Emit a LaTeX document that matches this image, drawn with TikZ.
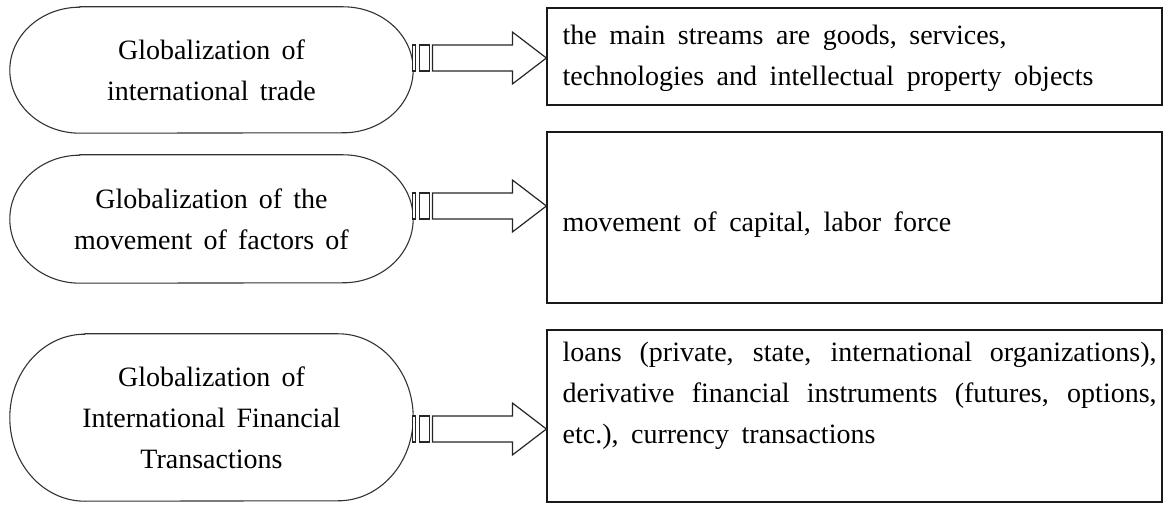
\documentclass[tikz,border=0pt]{standalone}
\usepackage{fontspec}
\setmainfont{Liberation Serif}
\newcommand\widesp[1]{\spaceskip=#1em plus 0.3em minus 0.1em\relax}
\begin{document}
\begin{tikzpicture}[x=1pt,y=1pt,
  txt/.style={font=\fontsize{28}{41}\selectfont\widesp{0.45}, inner sep=0pt},
  boxnode/.style={draw=black!90, line width=1.2pt, inner sep=0pt, minimum width=615pt},
  stadnode/.style={inner sep=0pt, minimum width=403pt, align=center, font=\fontsize{28}{41}\selectfont\widesp{0.4}},
  stadline/.style={line width=1.1pt, draw=black!80},
  arrline/.style={line width=1.2pt, draw=black!85, fill=white},
  fatarrow/.pic={
    \draw[arrline] (-134,-13) rectangle (-131,13);
    \draw[arrline] (-127,-13) rectangle (-117,13);
    \draw[arrline] (-114,-13) -- (-34,-13) -- (-34,-26) -- (0,0) -- (-34,26) -- (-34,13) -- (-114,13) -- cycle;
  }
]
\useasboundingbox (0,0) rectangle (1171,504);

% left stadium nodes
\node[stadnode, minimum height=126pt] (s1) at (211.5,434) {Globalization of\\international trade};
\node[stadnode, minimum height=128pt] (s2) at (211.5,285) {Globalization of the\\movement of factors of};
\node[stadnode, minimum height=167pt] (s3) at (211.5,86.5) {Globalization of\\International Financial\\Transactions};

\draw[stadline] ([xshift=70pt]s1.north west) -- ([xshift=-70pt]s1.north east)
  arc[start angle=90, end angle=-90, x radius=70pt, y radius=63pt]
  -- ([xshift=70pt]s1.south west)
  arc[start angle=270, end angle=90, x radius=70pt, y radius=63pt] -- cycle;
\draw[stadline] ([xshift=70pt]s2.north west) -- ([xshift=-70pt]s2.north east)
  arc[start angle=90, end angle=-90, x radius=70pt, y radius=64pt]
  -- ([xshift=70pt]s2.south west)
  arc[start angle=270, end angle=90, x radius=70pt, y radius=64pt] -- cycle;
\draw[stadline] ([xshift=75pt]s3.north west) -- ([xshift=-75pt]s3.north east)
  arc[start angle=90, end angle=-90, x radius=75pt, y radius=83.5pt]
  -- ([xshift=75pt]s3.south west)
  arc[start angle=270, end angle=90, x radius=75pt, y radius=83.5pt] -- cycle;

% right boxes
\node[boxnode, minimum height=97pt] (b1) at (854.5,447.5) {};
\node[boxnode, minimum height=171pt] (b2) at (854.5,286.5) {};
\node[boxnode, minimum height=172pt] (b3) at (854.5,88) {};

\node[txt, anchor=west, align=left] (tb1) at ([xshift=16pt,yshift=-1.5pt]b1.west)
  {the main streams are goods, services,\\technologies and intellectual property objects};
\node[txt, anchor=west, align=left] (tb2) at ([xshift=16pt,yshift=-7.5pt]b2.west)
  {movement of capital, labor force};
\node[txt, anchor=west, text width=594pt, align=justify] (tb3) at ([xshift=16pt,yshift=20pt]b3.west)
  {loans (private, state, international organizations),\linebreak derivative financial instruments (futures, options,\linebreak etc.), currency transactions};

% connectors: tips on the boxes' left sides
\coordinate (t1) at (b1.west |- 0,446);
\coordinate (t2) at (b2.west |- 0,298);
\coordinate (t3) at (b3.west |- 0,75);
\pic at (t1) {fatarrow};
\pic at (t2) {fatarrow};
\pic at (t3) {fatarrow};
\end{tikzpicture}
\end{document}
